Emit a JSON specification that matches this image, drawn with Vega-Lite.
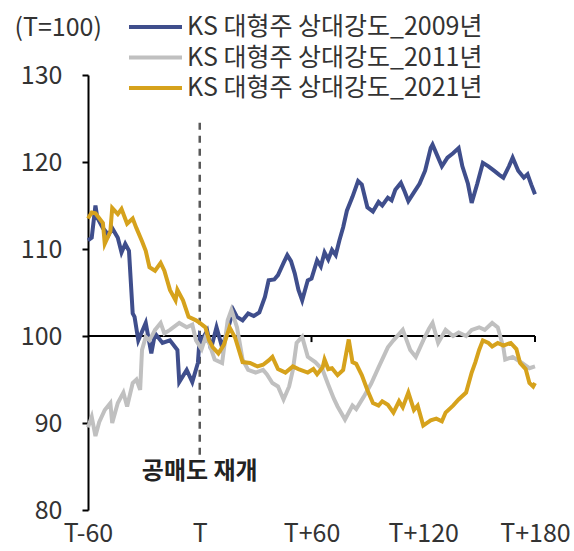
{
  "$schema": "https://vega.github.io/schema/vega-lite/v6.json",
  "width": 447,
  "height": 435,
  "autosize": {"type": "none"},
  "padding": {"left": 88, "top": 75, "right": 39, "bottom": 41},
  "background": "white",
  "config": {
    "view": {"stroke": null},
    "font": "Noto Sans CJK KR",
    "axis": {"labelFont": "Noto Sans CJK KR", "titleFont": "Noto Sans CJK KR"},
    "legend": {"labelFont": "Noto Sans CJK KR"}
  },
  "datasets": {
    "s2009": [
      {"day": -60, "value": 111}, {"day": -58, "value": 111.3}, {"day": -56, "value": 115}, {"day": -55, "value": 113.6},
      {"day": -52, "value": 112.4}, {"day": -49, "value": 111.6}, {"day": -47, "value": 112.4}, {"day": -44, "value": 111.3},
      {"day": -42, "value": 109.6}, {"day": -40, "value": 110.6}, {"day": -38, "value": 109.8}, {"day": -36, "value": 102.6},
      {"day": -35, "value": 102.2}, {"day": -33, "value": 99.5}, {"day": -29, "value": 101.5}, {"day": -26, "value": 98},
      {"day": -24, "value": 100.3}, {"day": -20, "value": 99.2}, {"day": -16, "value": 99.5}, {"day": -12, "value": 98.4},
      {"day": -11, "value": 94.7}, {"day": -7, "value": 96.1}, {"day": -4, "value": 94.7}, {"day": -1, "value": 96.9},
      {"day": 0, "value": 99.9}, {"day": 1, "value": 99.5}, {"day": 4, "value": 100.6}, {"day": 6, "value": 98.5},
      {"day": 9, "value": 101}, {"day": 12, "value": 98.7}, {"day": 15, "value": 100.7}, {"day": 18, "value": 103},
      {"day": 20, "value": 102.2}, {"day": 23, "value": 101.8}, {"day": 26, "value": 102.6}, {"day": 29, "value": 102.3},
      {"day": 32, "value": 102.7}, {"day": 35, "value": 104.5}, {"day": 37, "value": 106.4}, {"day": 40, "value": 106.5},
      {"day": 42, "value": 107}, {"day": 45, "value": 108.4}, {"day": 47, "value": 109.3}, {"day": 49, "value": 108.6},
      {"day": 51, "value": 107.2}, {"day": 53, "value": 105.3}, {"day": 55, "value": 104.1}, {"day": 58, "value": 106.4},
      {"day": 60, "value": 106.6}, {"day": 63, "value": 108.7}, {"day": 65, "value": 108}, {"day": 67, "value": 109.6},
      {"day": 69, "value": 108.8}, {"day": 71, "value": 109.9}, {"day": 73, "value": 109.3}, {"day": 75, "value": 111},
      {"day": 77, "value": 112.5}, {"day": 79, "value": 114.4}, {"day": 82, "value": 116}, {"day": 85, "value": 117.8},
      {"day": 87, "value": 117.4}, {"day": 90, "value": 114.8}, {"day": 93, "value": 114.3}, {"day": 96, "value": 115.4},
      {"day": 98, "value": 115}, {"day": 101, "value": 115.9}, {"day": 103, "value": 115.6}, {"day": 105, "value": 116.8},
      {"day": 108, "value": 117.6}, {"day": 110, "value": 116.6}, {"day": 112, "value": 115.5}, {"day": 115, "value": 116.5},
      {"day": 118, "value": 117.5}, {"day": 121, "value": 119}, {"day": 124, "value": 121.6}, {"day": 125, "value": 122},
      {"day": 128, "value": 120.5}, {"day": 130, "value": 119.5}, {"day": 133, "value": 120.5}, {"day": 136, "value": 121},
      {"day": 139, "value": 121.6}, {"day": 141, "value": 119.5}, {"day": 144, "value": 117.5}, {"day": 146, "value": 115.3},
      {"day": 149, "value": 117.5}, {"day": 152, "value": 119.9}, {"day": 155, "value": 119.5}, {"day": 158, "value": 119},
      {"day": 161, "value": 118.5}, {"day": 163, "value": 118.2}, {"day": 166, "value": 119.5}, {"day": 168, "value": 120.5},
      {"day": 171, "value": 119}, {"day": 174, "value": 118.2}, {"day": 176, "value": 118.6}, {"day": 178, "value": 117.4},
      {"day": 180, "value": 116.3}
    ],
    "s2011": [
      {"day": -60, "value": 89.5}, {"day": -58, "value": 90.7}, {"day": -56, "value": 88.5}, {"day": -54, "value": 90.1},
      {"day": -51, "value": 91.5}, {"day": -48, "value": 92.3}, {"day": -47, "value": 90}, {"day": -44, "value": 92.3},
      {"day": -41, "value": 93.5}, {"day": -39, "value": 91.9}, {"day": -36, "value": 94.6}, {"day": -34, "value": 95},
      {"day": -32, "value": 93.8}, {"day": -31, "value": 98.4}, {"day": -29, "value": 99.9}, {"day": -27, "value": 99.5},
      {"day": -24, "value": 100.7}, {"day": -21, "value": 101.5}, {"day": -19, "value": 100.3}, {"day": -16, "value": 100.7},
      {"day": -11, "value": 101.5}, {"day": -7, "value": 101}, {"day": -4, "value": 101.3}, {"day": -2, "value": 99.5},
      {"day": 1, "value": 98.5}, {"day": 3, "value": 99.8}, {"day": 5, "value": 99.2}, {"day": 8, "value": 97.3},
      {"day": 12, "value": 96.9}, {"day": 15, "value": 101.8}, {"day": 17, "value": 103}, {"day": 20, "value": 101},
      {"day": 23, "value": 97.3}, {"day": 26, "value": 96.1}, {"day": 30, "value": 95.8}, {"day": 34, "value": 96.1},
      {"day": 36, "value": 95.6}, {"day": 39, "value": 94.6}, {"day": 42, "value": 94.2}, {"day": 45, "value": 92.7},
      {"day": 48, "value": 94.2}, {"day": 50, "value": 96.1}, {"day": 52, "value": 99.2}, {"day": 55, "value": 99.9},
      {"day": 58, "value": 97.6}, {"day": 62, "value": 97}, {"day": 66, "value": 96.1}, {"day": 69, "value": 94.4},
      {"day": 72, "value": 92.8}, {"day": 74, "value": 91.9}, {"day": 78, "value": 90.4}, {"day": 82, "value": 92},
      {"day": 84, "value": 91.6}, {"day": 88, "value": 93}, {"day": 92, "value": 94.5}, {"day": 96, "value": 96.4},
      {"day": 101, "value": 98.7}, {"day": 104, "value": 99.5}, {"day": 109, "value": 100.7}, {"day": 113, "value": 98.4},
      {"day": 116, "value": 97.6}, {"day": 120, "value": 99.5}, {"day": 123, "value": 100.8}, {"day": 125, "value": 101.5},
      {"day": 128, "value": 99.2}, {"day": 132, "value": 100.7}, {"day": 136, "value": 100}, {"day": 139, "value": 100.4},
      {"day": 143, "value": 100}, {"day": 146, "value": 100.7}, {"day": 150, "value": 101}, {"day": 153, "value": 100.7},
      {"day": 157, "value": 101.5}, {"day": 160, "value": 101}, {"day": 163, "value": 98.7}, {"day": 164, "value": 97.3},
      {"day": 168, "value": 97.6}, {"day": 173, "value": 96.9}, {"day": 177, "value": 96.3}, {"day": 180, "value": 96.5}
    ],
    "s2021": [
      {"day": -60, "value": 113.5}, {"day": -58, "value": 114.2}, {"day": -56, "value": 114.1}, {"day": -52, "value": 113},
      {"day": -51, "value": 110.6}, {"day": -48, "value": 112}, {"day": -47, "value": 114.7}, {"day": -44, "value": 114},
      {"day": -42, "value": 114.6}, {"day": -39, "value": 112.9}, {"day": -36, "value": 113.5}, {"day": -34, "value": 112.4},
      {"day": -31, "value": 110.9}, {"day": -29, "value": 109.8}, {"day": -27, "value": 107.9}, {"day": -24, "value": 107.5},
      {"day": -21, "value": 108.4}, {"day": -19, "value": 107.5}, {"day": -16, "value": 105.3}, {"day": -13, "value": 104.1},
      {"day": -12, "value": 105.3}, {"day": -9, "value": 104.1}, {"day": -6, "value": 102.2}, {"day": -2, "value": 101.8},
      {"day": 0, "value": 101.5}, {"day": 3, "value": 101}, {"day": 5, "value": 99.5}, {"day": 7, "value": 98.7},
      {"day": 10, "value": 98}, {"day": 13, "value": 99}, {"day": 16, "value": 101}, {"day": 19, "value": 99.8},
      {"day": 23, "value": 97}, {"day": 27, "value": 96.9}, {"day": 31, "value": 96.5}, {"day": 34, "value": 96.7},
      {"day": 37, "value": 97.2}, {"day": 39, "value": 97.6}, {"day": 42, "value": 96.2}, {"day": 46, "value": 95.8},
      {"day": 50, "value": 96.5}, {"day": 53, "value": 96.2}, {"day": 58, "value": 95.8}, {"day": 61, "value": 96.2},
      {"day": 63, "value": 95.6}, {"day": 66, "value": 96.4}, {"day": 67, "value": 97.3}, {"day": 69, "value": 96.2},
      {"day": 71, "value": 96.3}, {"day": 74, "value": 95.5}, {"day": 77, "value": 96.1}, {"day": 80, "value": 99.6},
      {"day": 82, "value": 97}, {"day": 84, "value": 96.8}, {"day": 87, "value": 95.5}, {"day": 90, "value": 93.8},
      {"day": 93, "value": 92.3}, {"day": 96, "value": 92}, {"day": 98, "value": 92.5}, {"day": 101, "value": 92.1},
      {"day": 104, "value": 91.2}, {"day": 107, "value": 92.5}, {"day": 109, "value": 91.8}, {"day": 112, "value": 93.5},
      {"day": 115, "value": 91.5}, {"day": 117, "value": 92}, {"day": 120, "value": 89.7}, {"day": 124, "value": 90.3},
      {"day": 127, "value": 90.5}, {"day": 130, "value": 90.2}, {"day": 132, "value": 91.2}, {"day": 136, "value": 92},
      {"day": 139, "value": 92.7}, {"day": 143, "value": 93.5}, {"day": 146, "value": 95.8}, {"day": 148, "value": 97},
      {"day": 150, "value": 98.4}, {"day": 152, "value": 99.5}, {"day": 155, "value": 99.2}, {"day": 157, "value": 98.8},
      {"day": 160, "value": 99.2}, {"day": 163, "value": 98.9}, {"day": 167, "value": 99.2}, {"day": 170, "value": 98.5},
      {"day": 172, "value": 96.9}, {"day": 175, "value": 96.2}, {"day": 177, "value": 94.6}, {"day": 179, "value": 94.2},
      {"day": 180, "value": 94.6}
    ],
    "refline": [{"x1": -60, "x2": 180, "y": 100}],
    "smallticks": [{"x": 60, "y1": 100, "y2": 99.3}, {"x": 120, "y1": 100, "y2": 99.3}, {"x": 180, "y1": 100, "y2": 99.3}],
    "dashline": [{"x": 0, "y1": 124.5, "y2": 86.3}],
    "note": [{"x": 0, "y": 84.4, "label": "공매도 재개"}]
  },
  "layer": [
    {
      "data": {"name": "refline"},
      "mark": {"type": "rule", "color": "#000000", "strokeWidth": 2},
      "encoding": {
        "x": {"field": "x1", "type": "quantitative", "scale": {"domain": [-60, 180], "nice": false, "zero": false},
          "axis": {"values": [-60, 0, 60, 120, 180], "labelExpr": "datum.value == 0 ? 'T' : (datum.value < 0 ? 'T-' + (-datum.value) : 'T+' + datum.value)",
            "domain": false, "ticks": false, "grid": false, "labelFontSize": 25, "labelColor": "#333333", "labelPadding": 11, "labelFlush": false, "title": null}},
        "x2": {"field": "x2"},
        "y": {"field": "y", "type": "quantitative", "scale": {"domain": [80, 130], "nice": false, "zero": false},
          "axis": {"values": [80, 90, 100, 110, 120, 130], "grid": false, "domainColor": "#000000", "domainWidth": 2, "tickColor": "#000000", "tickWidth": 2, "tickSize": 6,
            "labelFontSize": 25, "labelColor": "#333333", "labelPadding": 20,
            "title": "(T=100)", "titleAngle": 0, "titleX": -74, "titleY": -48, "titleAlign": "left", "titleBaseline": "middle",
            "titleFontSize": 25, "titleFontWeight": "normal", "titleColor": "#333333"}}
      }
    },
    {
      "data": {"name": "smallticks"},
      "mark": {"type": "rule", "color": "#000000", "strokeWidth": 2},
      "encoding": {
        "x": {"field": "x", "type": "quantitative"},
        "y": {"field": "y1", "type": "quantitative"},
        "y2": {"field": "y2"}
      }
    },
    {
      "data": {"name": "dashline"},
      "mark": {"type": "rule", "color": "#595959", "strokeWidth": 2.5, "strokeDash": [7, 6]},
      "encoding": {
        "x": {"field": "x", "type": "quantitative"},
        "y": {"field": "y1", "type": "quantitative"},
        "y2": {"field": "y2"}
      }
    },
    {
      "data": {"name": "s2009"},
      "transform": [{"calculate": "'KS 대형주 상대강도_2009년'", "as": "series"}],
      "mark": {"type": "line", "strokeWidth": 4},
      "encoding": {
        "x": {"field": "day", "type": "quantitative"},
        "y": {"field": "value", "type": "quantitative"},
        "color": {"field": "series", "type": "nominal", "scale": {"domain": ["KS 대형주 상대강도_2009년", "KS 대형주 상대강도_2011년", "KS 대형주 상대강도_2021년"], "range": ["#3f4e8c", "#c0c0c0", "#d6a21c"]},
          "legend": {"orient": "none", "legendX": 39, "legendY": -63, "title": null, "symbolType": "stroke", "symbolSize": 2809, "symbolStrokeWidth": 4,
            "clipHeight": 30, "labelFontSize": 25, "labelColor": "#333333", "labelLimit": 450, "rowPadding": 0.5, "labelOffset": 3}}
      }
    },
    {
      "data": {"name": "s2011"},
      "transform": [{"calculate": "'KS 대형주 상대강도_2011년'", "as": "series"}],
      "mark": {"type": "line", "strokeWidth": 4},
      "encoding": {
        "x": {"field": "day", "type": "quantitative"},
        "y": {"field": "value", "type": "quantitative"},
        "color": {"field": "series", "type": "nominal"}
      }
    },
    {
      "data": {"name": "s2021"},
      "transform": [{"calculate": "'KS 대형주 상대강도_2021년'", "as": "series"}],
      "mark": {"type": "line", "strokeWidth": 4},
      "encoding": {
        "x": {"field": "day", "type": "quantitative"},
        "y": {"field": "value", "type": "quantitative"},
        "color": {"field": "series", "type": "nominal"}
      }
    },
    {
      "data": {"name": "note"},
      "mark": {"type": "text", "fontSize": 24, "fontWeight": "bold", "color": "#222222", "align": "center", "baseline": "middle"},
      "encoding": {
        "x": {"field": "x", "type": "quantitative"},
        "y": {"field": "y", "type": "quantitative"},
        "text": {"field": "label"}
      }
    }
  ]
}
